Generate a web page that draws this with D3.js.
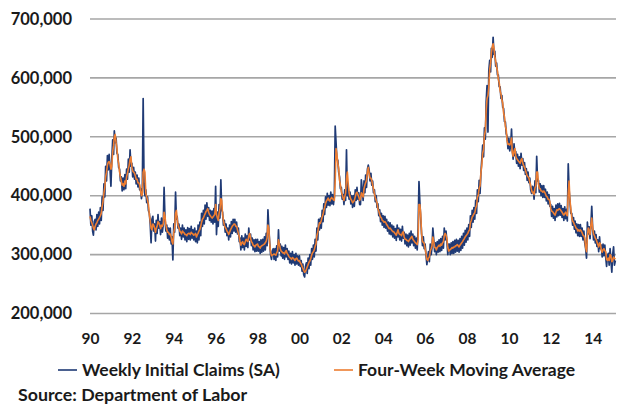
<!DOCTYPE html>
<html>
<head>
<meta charset="utf-8">
<script src="https://cdn.jsdelivr.net/npm/d3@7"></script>
<style>
  body { margin: 0; background: #fff; }
  svg text { font-family: Lato, "Open Sans", sans-serif; font-weight: 700; fill: #1a1a1a; }
</style>
</head>
<body>
<div id="chart"></div>
<script>
// Weekly initial claims (SA), thousands, two readings per month from Jan 1990
const weeklyClaims = [
  378,350, 366,340, 333,356, 360,342, 368,348, 372,352, 380,358, 398,375, 420,398, 450,425, 468,444, 470,445, // 1990
  416,462, 495,470, 510,490, 498,472, 470,448, 445,425, 432,408, 430,410, 436,412, 445,428, 462,440, 478,450, // 1991
  455,432, 448,428, 440,420, 435,415, 430,410, 412,395, 405,565, 420,400, 410,388, 398,375, 370,352, 320,360, // 1992
  365,340, 352,323, 358,336, 368,345, 356,334, 362,338, 350,414, 362,340, 350,328, 345,325, 345,318, 330,291, // 1993
  352,338, 406,360, 365,345, 352,332, 345,326, 350,330, 345,325, 342,322, 346,326, 344,325, 348,328, 342,325, // 1994
  345,322, 340,320, 350,325, 355,332, 370,348, 375,352, 384,360, 388,365, 380,358, 375,355, 374,352, 378,355, // 1995
  416,334, 372,348, 385,362, 427,375, 372,350, 358,338, 352,332, 345,325, 350,330, 356,336, 360,340, 360,338, // 1996
  355,335, 345,322, 328,308, 332,312, 328,308, 335,314, 332,312, 345,325, 335,315, 328,308, 325,305, 326,306, // 1997
  326,306, 322,302, 325,304, 326,306, 330,308, 336,315, 376,345, 320,300, 292,306, 310,292, 310,290, 315,296, // 1998
  342,306, 318,298, 314,294, 312,292, 316,296, 310,292, 306,286, 302,284, 305,286, 300,282, 302,284, 298,282, // 1999
  298,280, 290,272, 284,266, 262,280, 286,268, 294,276, 300,282, 310,292, 316,296, 326,306, 345,325, 360,342, // 2000
  362,345, 375,356, 386,368, 398,380, 404,384, 400,383, 406,386, 402,385, 398,518, 490,462, 460,440, 432,412, // 2001
  414,394, 402,385, 410,392, 478,400, 414,394, 406,386, 400,380, 400,382, 410,392, 414,394, 405,385, 385,427, // 2002
  410,392, 425,405, 435,414, 445,452, 444,425, 438,418, 425,405, 410,390, 400,380, 386,366, 376,356, 370,350, // 2003
  366,346, 365,345, 360,340, 355,335, 354,334, 350,330, 348,328, 344,324, 350,330, 345,325, 343,323, 348,328, // 2004
  338,318, 335,315, 333,313, 336,316, 340,320, 335,315, 331,311, 328,308, 345,424, 390,362, 335,315, 330,310, // 2005
  318,300, 283,296, 305,288, 318,300, 312,345, 325,305, 320,300, 322,304, 325,305, 327,307, 331,311, 345,325, // 2006
  340,322, 300,318, 318,300, 320,302, 322,302, 324,304, 326,306, 324,304, 327,307, 331,311, 336,316, 341,321, // 2007
  345,325, 351,331, 366,346, 375,355, 380,360, 392,370, 410,390, 426,404, 440,462, 486,466, 515,496, 560,587, // 2008
  508,612, 630,610, 650,635, 669,640, 645,620, 625,605, 605,585, 585,565, 570,550, 548,526, 525,505, 500,480, // 2009
  498,476, 485,513, 478,462, 488,468, 475,455, 470,450, 466,446, 472,452, 463,443, 456,436, 446,426, 440,422, // 2010
  430,410, 404,416, 414,394, 425,405, 467,425, 426,406, 420,400, 417,397, 417,397, 411,391, 406,386, 402,382, // 2011
  385,365, 382,362, 378,358, 384,364, 386,366, 387,367, 383,363, 378,358, 381,361, 377,357, 454,410, 390,370, // 2012
  370,350, 363,343, 357,337, 352,332, 351,331, 351,331, 345,325, 340,320, 310,294, 355,335, 347,327, 350,382, // 2013
  345,325, 340,320, 334,314, 325,305, 330,310, 316,296, 318,298, 316,296, 280,298, 302,282, 310,290, 270,300, // 2014
  313,282, 290                                                                                                 // 2015
];

// Four-week moving average, thousands, same dates as the weekly readings
const movingAverage = [
  365,358, 354,350, 345,342, 348,352, 354,358, 360,363, 366,370, 382,390, 405,414, 432,440, 452,457, 458,454, // 1990
  445,450, 475,485, 500,504, 490,480, 462,455, 440,432, 425,418, 420,416, 425,420, 432,438, 446,452, 462,466, // 1991
  448,442, 440,438, 434,428, 428,422, 422,418, 408,400, 402,440, 445,440, 404,398, 392,385, 368,358, 345,342, // 1992
  352,350, 345,338, 344,348, 356,354, 350,344, 350,348, 352,372, 365,350, 342,338, 338,334, 335,330, 322,318, // 1993
  338,345, 370,375, 360,350, 345,340, 338,335, 340,338, 337,334, 334,332, 335,336, 336,334, 338,336, 335,333, // 1994
  334,336, 330,334, 336,340, 343,348, 355,360, 362,366, 369,373, 375,378, 372,368, 366,364, 362,364, 366,368, // 1995
  385,368, 362,358, 370,378, 395,392, 368,358, 350,346, 344,340, 338,334, 338,342, 345,348, 350,352, 352,348, // 1996
  348,342, 336,330, 322,316, 320,322, 318,317, 322,326, 324,322, 332,336, 328,322, 320,316, 315,313, 316,317, // 1997
  318,314, 313,311, 314,315, 316,317, 318,320, 323,328, 350,345, 318,305, 298,299, 300,301, 300,299, 303,306, // 1998
  325,318, 310,306, 305,303, 303,301, 305,307, 302,300, 297,295, 294,292, 295,294, 292,290, 293,294, 291,289, // 1999
  290,286, 284,280, 277,273, 270,272, 275,279, 283,287, 289,293, 299,303, 305,308, 314,318, 332,338, 348,354, // 2000
  353,358, 364,368, 375,380, 387,391, 393,396, 392,391, 395,397, 395,393, 392,425, 480,470, 455,446, 426,418, // 2001
  407,402, 396,392, 398,404, 430,440, 420,405, 398,394, 392,388, 390,392, 398,404, 406,402, 398,392, 395,405, // 2002
  402,398, 412,418, 422,426, 440,448, 438,430, 430,426, 418,412, 403,397, 392,388, 378,374, 368,364, 362,358, // 2003
  357,355, 356,354, 351,349, 346,344, 345,343, 341,339, 339,337, 335,333, 338,342, 336,334, 334,332, 337,339, // 2004
  330,326, 326,324, 324,322, 325,327, 329,331, 326,324, 322,320, 319,317, 325,385, 385,370, 335,322, 321,319, // 2005
  310,302, 292,290, 294,296, 306,310, 315,330, 322,312, 312,308, 312,314, 316,314, 318,316, 320,322, 332,336, // 2006
  333,327, 312,306, 307,309, 310,312, 311,313, 313,315, 315,317, 315,313, 316,318, 320,322, 325,327, 330,332, // 2007
  334,336, 340,342, 354,358, 364,366, 369,371, 379,383, 397,401, 413,417, 440,452, 472,478, 502,510, 545,565, // 2008
  570,585, 615,625, 642,652, 658,650, 636,628, 618,612, 598,592, 578,572, 563,557, 540,534, 518,512, 493,487, // 2009
  488,486, 490,498, 474,467, 476,480, 467,463, 461,459, 457,455, 461,463, 455,451, 448,444, 438,434, 432,430, // 2010
  423,417, 409,405, 406,402, 413,417, 440,440, 420,412, 412,408, 408,406, 408,406, 403,399, 398,394, 394,390, // 2011
  378,374, 373,371, 369,367, 372,376, 375,377, 378,376, 374,372, 369,367, 370,372, 368,366, 405,425, 392,378, // 2012
  363,357, 355,351, 349,345, 344,340, 342,340, 342,340, 337,333, 332,328, 312,305, 330,345, 340,334, 350,362, // 2013
  345,335, 332,328, 326,322, 317,313, 320,318, 308,304, 308,310, 307,305, 292,290, 294,290, 300,298, 288,290, // 2014
  296,294, 292                                                                                                 // 2015
];

const yTicks = [200000, 300000, 400000, 500000, 600000, 700000];
const xTickYears = [1990, 1992, 1994, 1996, 1998, 2000, 2002, 2004, 2006, 2008, 2010, 2012, 2014];
const seriesNames = ['Weekly Initial Claims (SA)', 'Four-Week Moving Average'];
const seriesColors = ['#1f3a75', '#ed7d31'];

// reading i falls on the 1st or the 16th of its month
const readingDate = i => new Date(1990 + Math.floor(i / 24), Math.floor((i % 24) / 2), i % 2 ? 16 : 1);

const weeklyData = weeklyClaims.map((v, i) => ({ date: readingDate(i), value: v * 1000 }));
const avgData = movingAverage.map((v, i) => ({ date: readingDate(i), value: v * 1000 }));

const width = 618, height = 404;
const plot = { left: 90, right: 616, top: 19, bottom: 313.5 };

const svg = d3.select('#chart')
    .append('svg')
    .attr('width', width)
    .attr('height', height);

const x = d3.scaleTime()
    .domain([new Date(1990, 0, 1), new Date(2015, 1, 12)])
    .range([plot.left, plot.right]);

const y = d3.scaleLinear()
    .domain([200000, 700000])
    .range([plot.bottom, plot.top]);

// gridlines
svg.append('g')
    .selectAll('line')
    .data(yTicks)
    .enter()
    .append('line')
    .attr('x1', plot.left)
    .attr('x2', plot.right)
    .attr('y1', d => y(d))
    .attr('y2', d => y(d))
    .attr('stroke', '#a6a6a6')
    .attr('stroke-width', 1.6);

// Y axis labels
const yAxis = svg.append('g')
    .attr('transform', `translate(${plot.left},0)`)
    .call(d3.axisLeft(y).tickValues(yTicks).tickFormat(d3.format(',')).tickSize(0).tickPadding(18));
yAxis.select('.domain').remove();
yAxis.selectAll('text').style('font-size', '16.5px');

// X axis labels
const xAxis = svg.append('g')
    .attr('transform', `translate(0,${plot.bottom})`)
    .call(d3.axisBottom(x)
        .tickValues(xTickYears.map(yr => new Date(yr, 0, 1)))
        .tickFormat(d3.timeFormat('%y'))
        .tickSize(0)
        .tickPadding(19));
xAxis.select('.domain').remove();
xAxis.selectAll('text').style('font-size', '15.5px');

// lines
const line = d3.line()
    .x(d => x(d.date))
    .y(d => y(d.value));

svg.append('path')
    .datum(weeklyData)
    .attr('fill', 'none')
    .attr('stroke', seriesColors[0])
    .attr('stroke-width', 1.7)
    .attr('stroke-linejoin', 'round')
    .attr('d', line);

svg.append('path')
    .datum(avgData)
    .attr('fill', 'none')
    .attr('stroke', seriesColors[1])
    .attr('stroke-width', 1.6)
    .attr('stroke-linejoin', 'round')
    .attr('d', line);

// legend
const legendItems = [
    { x: 58, name: seriesNames[0], color: seriesColors[0] },
    { x: 334, name: seriesNames[1], color: seriesColors[1] }
];
const legend = svg.selectAll('.legend')
    .data(legendItems)
    .enter()
    .append('g')
    .attr('class', 'legend')
    .attr('transform', d => `translate(${d.x},370)`);

legend.append('line')
    .attr('x1', 0)
    .attr('x2', 19)
    .attr('stroke', d => d.color)
    .attr('stroke-width', 1.6);

legend.append('text')
    .attr('x', 24)
    .attr('dy', '0.35em')
    .style('font-size', '17.5px')
    .text(d => d.name);

// source
svg.append('text')
    .attr('x', 18)
    .attr('y', 395)
    .attr('dy', '0.35em')
    .style('font-size', '17.8px')
    .text('Source: Department of Labor');
</script>
</body>
</html>
